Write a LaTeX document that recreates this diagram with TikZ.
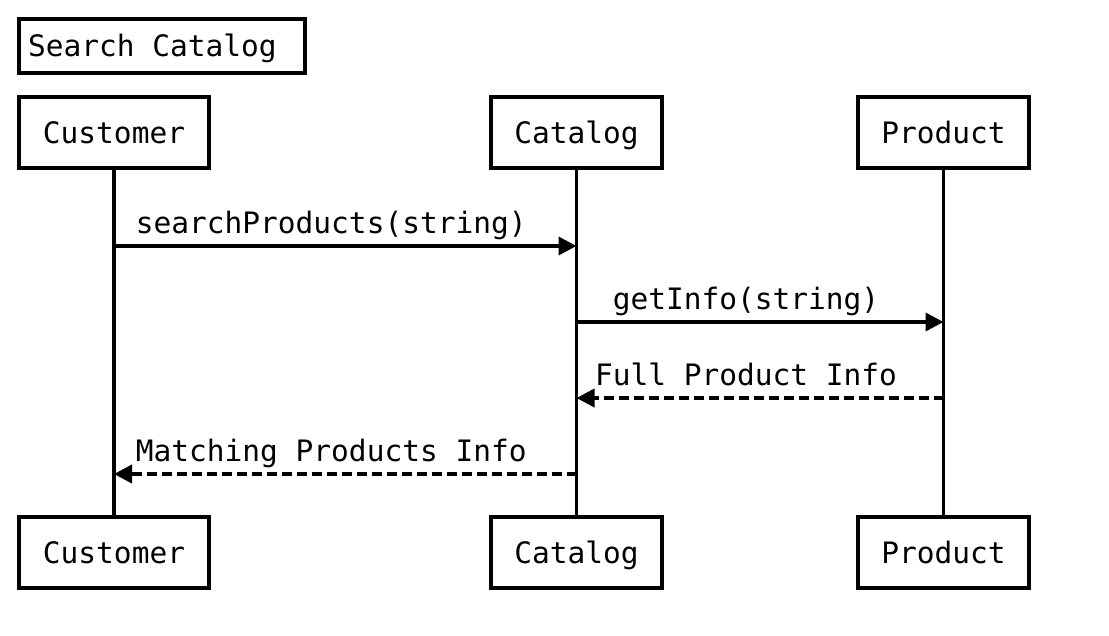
\documentclass[tikz,border=0pt]{standalone}
\usepackage{fontspec}
\usepackage{tikz}
\usetikzlibrary{arrows.meta}
\newfontfamily\seqfont{DejaVu Sans Mono}
\tikzset{
  actorbox/.style={draw, line width=4pt, inner sep=0pt, minimum height=71pt, text height=27pt, text depth=6pt, font=\seqfont\fontsize{29.5}{35}\selectfont},
  lifeline/.style={line width=3.8pt},
  callmsg/.style={line width=3.8pt, -{Triangle[length=18pt, width=18pt]}},
  replymsg/.style={callmsg, dash pattern=on 10pt off 5pt},
  msglabel/.style={anchor=base, yshift=13pt, xshift=-14pt, inner sep=0pt, font=\seqfont\fontsize{29.5}{35}\selectfont}
}

\begin{document}
\begin{tikzpicture}[x=1pt, y=-1pt]
        \useasboundingbox[fill=white] (0,0) rectangle (1109,635);
        \node[actorbox, minimum width=286pt, minimum height=54pt] (title) at (162,46) {\makebox[268pt][l]{Search Catalog}};
        \node[actorbox, minimum width=190pt] (custTop) at (114,132.5) {Customer};
        \node[actorbox, minimum width=171pt] (catTop) at (576.5,132.5) {Catalog};
        \node[actorbox, minimum width=171pt] (prodTop) at (943.5,132.5) {Product};
        \node[actorbox, minimum width=190pt] (custBot) at (114,552.5) {Customer};
        \node[actorbox, minimum width=171pt] (catBot) at (576.5,552.5) {Catalog};
        \node[actorbox, minimum width=171pt] (prodBot) at (943.5,552.5) {Product};
        \draw[lifeline] (custTop.south) -- (custBot.north);
        \draw[lifeline] (catTop.south) -- (catBot.north);
        \draw[lifeline] (prodTop.south) -- (prodBot.north);
        \coordinate (cust1) at (114,246);
        \coordinate (cat1) at (576.5,246);
        \coordinate (cat2) at (576.5,322);
        \coordinate (prod2) at (943.5,322);
        \coordinate (prod3) at (943.5,398);
        \coordinate (cat3) at (576.5,398);
        \coordinate (cat4) at (576.5,474);
        \coordinate (cust4) at (114,474);
        \draw[callmsg] (cust1) -- node[msglabel] (lblSearch) {searchProducts(string)} (cat1);
        \draw[callmsg] (cat2) -- node[msglabel] (lblInfo) {getInfo(string)} (prod2);
        \draw[replymsg] (prod3) -- node[msglabel] (lblFull) {Full Product Info} (cat3);
        \draw[replymsg] (cat4) -- node[msglabel] (lblMatch) {Matching Products Info} (cust4);
      \end{tikzpicture}
\end{document}
